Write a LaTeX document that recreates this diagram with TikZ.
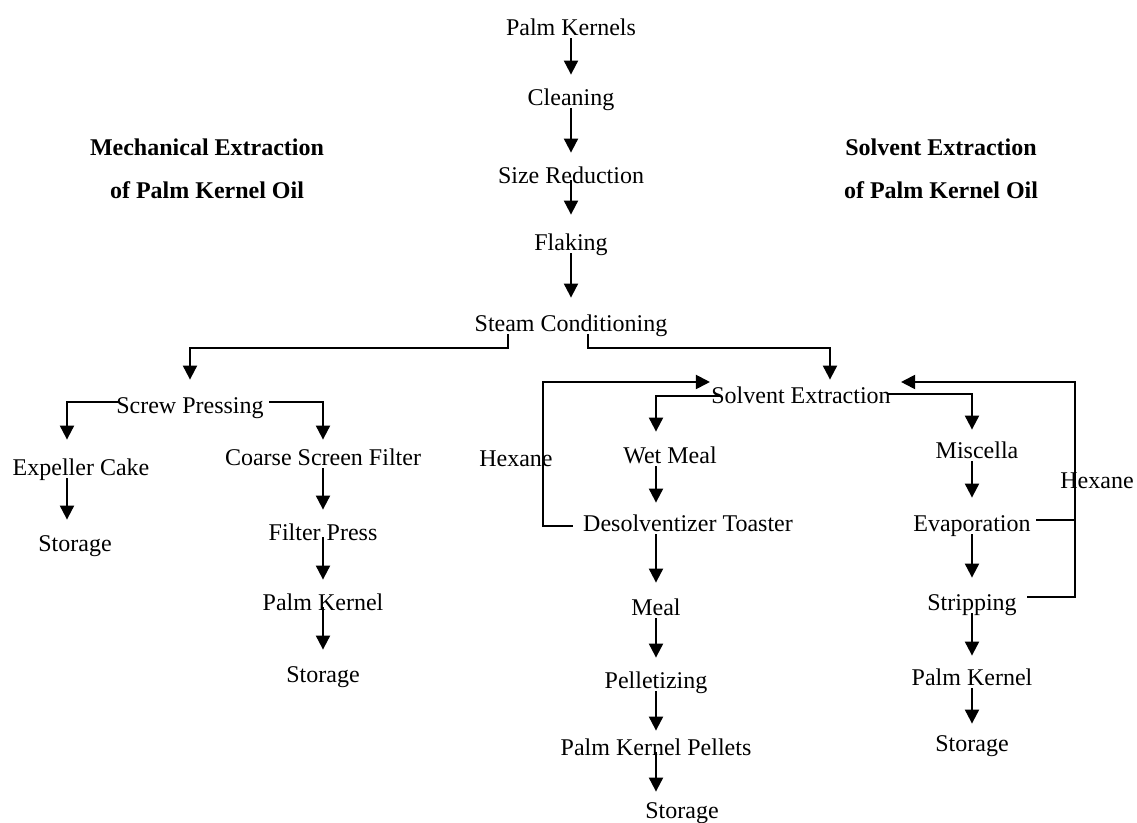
\documentclass[tikz,border=0pt]{standalone}
\usepackage{fontspec}
\setmainfont{Liberation Serif}
\usetikzlibrary{arrows.meta, positioning}

\begin{document}
\begin{tikzpicture}[
    x=0.5pt, y=-0.5pt,
    stage/.style   = {inner sep=0pt, text height=8.5pt, text depth=2.5pt,
                      yshift=-1.5pt, font=\fontsize{12}{14}\selectfont},
    heading/.style = {stage, font=\fontsize{12}{14}\selectfont\bfseries},
    arr/.style     = {-{Triangle[length=7pt, width=7pt]}, line width=1pt,
                      shorten <=-1.5pt, shorten >=7pt},
    intext/.style  = {shorten <=-4.5pt},
    link/.style    = {line width=1pt},
  ]
  \useasboundingbox (0,0) rectangle (1137,823);

  %% Headings
  \node[heading] (mechA) at (207,147) {Mechanical Extraction};
  \node[heading] (mechB) at (207,190) {of Palm Kernel Oil};
  \node[heading] (solvA) at (941,147) {Solvent Extraction};
  \node[heading] (solvB) at (941,190) {of Palm Kernel Oil};

  %% Common preparation
  \node[stage] (kernels)  at (571,27)  {Palm Kernels};
  \node[stage] (cleaning) at (571,97)  {Cleaning};
  \node[stage] (sizered)  at (571,175) {Size Reduction};
  \node[stage] (flaking)  at (571,242) {Flaking};
  \node[stage] (steam)    at (571,323) {Steam Conditioning};

  %% Mechanical route
  \node[stage] (screw)       at (190,405) {Screw Pressing};
  \node[stage] (cake)        at (81,467)  {Expeller Cake};
  \node[stage] (cakestore)   at (75,543)  {Storage};
  \node[stage] (coarse)      at (323,457) {Coarse Screen Filter};
  \node[stage] (filterpress) at (323,532) {Filter Press};
  \node[stage] (kernelL)     at (323,602) {Palm Kernel};
  \node[stage] (storeL)      at (323,674) {Storage};

  %% Solvent route
  \node[stage] (solvext)  at (801,395) {Solvent Extraction};
  \node[stage] (wetmeal)  at (670,455) {Wet Meal};
  \node[stage] (desolv)   at (688,523) {Desolventizer Toaster};
  \node[stage] (meal)     at (656,607) {Meal};
  \node[stage] (pellet)   at (656,680) {Pelletizing};
  \node[stage] (pellets)  at (656,747) {Palm Kernel Pellets};
  \node[stage] (storeM)   at (682,810) {Storage};
  \node[stage] (miscella) at (977,450) {Miscella};
  \node[stage] (evap)     at (972,523) {Evaporation};
  \node[stage] (strip)    at (972,602) {Stripping};
  \node[stage] (kernelR)  at (972,677) {Palm Kernel};
  \node[stage] (storeR)   at (972,743) {Storage};
  \node[stage] (hexL)     at (516,458) {Hexane};
  \node[stage] (hexR)     at (1097,480) {Hexane};

  %% Hexane return corners
  \coordinate (lback) at (543,382);
  \coordinate (rback) at (1075,382);

  %% Main line
  \draw[arr] (kernels) -- (cleaning);
  \draw[arr] (cleaning) -- (sizered);
  \draw[arr, intext, shorten >=9.5pt] (sizered) -- (flaking);
  \draw[arr, shorten >=8.5pt] (flaking) -- (steam);

  %% Split after conditioning
  \draw[arr, shorten >=8.5pt] ([xshift=-31.5pt]steam.south) -- ++(0,11) -| (screw.north);
  \draw[arr, shorten >=3.5pt] ([xshift=8.5pt]steam.south) -- ++(0,11) -| ([xshift=14.5pt]solvext.north);

  %% Mechanical route
  \draw[arr, shorten >=9.5pt] ([yshift=3pt]screw.west) -| ([xshift=-7pt]cake.north);
  \draw[arr, shorten <=2.5pt, shorten >=4.5pt] ([yshift=3pt]screw.east) -| (coarse.north);
  \draw[arr, shorten >=7.5pt] ([xshift=-7pt]cake.south) -- ([xshift=-4pt]cakestore.north);
  \draw[arr] (coarse) -- (filterpress);
  \draw[arr, intext] (filterpress) -- (kernelL);
  \draw[arr, intext, shorten >=8pt] (kernelL) -- (storeL);

  %% Solvent route, meal side
  \draw[arr, intext, shorten >=7.5pt] ([yshift=1pt]solvext.west) -| ([xshift=-7pt]wetmeal.north);
  \draw[arr, shorten >=6pt] ([xshift=-7pt]wetmeal.south) -- ([xshift=-16pt]desolv.north);
  \draw[arr, shorten >=8pt] ([xshift=-16pt]desolv.south) -- (meal);
  \draw[arr] (meal) -- (pellet);
  \draw[arr, shorten >=4pt] (pellet) -- (pellets);
  \draw[arr, intext, shorten >=5pt] (pellets) -- ([xshift=-13pt]storeM.north);

  %% Solvent route, oil side
  \draw[arr, shorten >=6pt] ([yshift=2pt]solvext.east) -| ([xshift=-2.5pt]miscella.north);
  \draw[arr, shorten >=8.5pt] ([xshift=-2.5pt]miscella.south) -- (evap);
  \draw[arr, shorten >=8pt] (evap) -- (strip);
  \draw[arr, shorten >=6.5pt] (strip) -- (kernelR);
  \draw[arr, shorten >=5.5pt] (kernelR) -- (storeR);

  %% Hexane recycle
  \draw[arr, shorten <=0pt, shorten >=0.5pt] ([xshift=-5pt]desolv.west) -| (lback) -- ([yshift=8pt]solvext.west);
  \draw[arr, shorten <=0pt, shorten >=5pt] ([shift={(5pt,4pt)}]strip.east) -| (rback) -- ([yshift=8pt]solvext.east);
  \draw[link] ([shift={(2.5pt,3pt)}]evap.east) -- ([yshift=3pt]evap.east -| rback);

\end{tikzpicture}
\end{document}
